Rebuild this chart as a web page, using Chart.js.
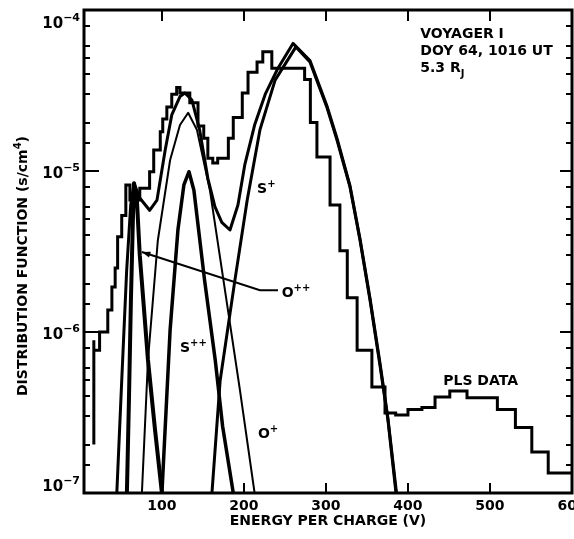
<!DOCTYPE html>
<html><head><meta charset="utf-8">
<script src="https://cdn.jsdelivr.net/npm/chart.js@4/dist/chart.umd.min.js"></script>
<style>html,body{margin:0;padding:0;background:#fff}#wrap{width:574px;height:539px}</style>
</head><body><div id="wrap"><canvas id="c" width="574" height="539"></canvas></div>
<script>
// PLS spectrum: left edge of each energy channel (V) and distribution function (s/cm^4)
const plsEnergy = [17, 17, 24, 34, 39, 43, 46, 51, 56, 61, 73, 85, 90, 98, 101, 106, 112, 118, 122, 134, 144, 151, 156, 162, 168, 181, 187, 198, 205, 216, 223, 234, 274, 281, 289, 305, 317, 326, 338, 356, 372, 385, 400, 417, 433, 451, 472, 509, 531, 551, 571, 594, 600];
const plsValue  = [2.0e-7, 8.9e-7, 7.7e-7, 1.0e-6, 1.37e-6, 1.9e-6, 2.5e-6, 3.9e-6, 5.3e-6, 8.2e-6, 6.6e-6, 7.8e-6, 9.9e-6, 1.35e-5, 1.75e-5, 2.1e-5, 2.5e-5, 3.0e-5, 3.3e-5, 3.05e-5, 2.65e-5, 1.9e-5, 1.6e-5, 1.2e-5, 1.12e-5, 1.2e-5, 1.6e-5, 2.15e-5, 3.05e-5, 4.1e-5, 4.75e-5, 5.5e-5, 4.35e-5, 3.7e-5, 2.0e-5, 1.22e-5, 6.15e-6, 3.2e-6, 1.63e-6, 7.7e-7, 4.55e-7, 3.14e-7, 3.05e-7, 3.3e-7, 3.4e-7, 3.95e-7, 4.3e-7, 3.9e-7, 3.3e-7, 2.55e-7, 1.8e-7, 1.33e-7, 1.33e-7];

// Fitted Maxwellian components
const oxy2Energy = [57.3, 59.8, 62.2, 64.6, 66, 69.5, 73, 83, 91.5, 100];
const oxy2Value  = [1e-7, 3.8e-7, 1.58e-6, 4.97e-6, 8.4e-6, 6.6e-6, 3.0e-6, 6.7e-7, 2.5e-7, 1e-7];

const sul2Energy = [100, 110, 119.5, 126.8, 133, 139, 152, 165, 174, 187];
const sul2Value  = [1e-7, 1.03e-6, 4.3e-6, 8.2e-6, 9.9e-6, 7.6e-6, 2.1e-6, 6.7e-7, 2.6e-7, 1e-7];

const oxy1Energy = [75.6, 83, 95, 110, 122, 132, 142.7, 158.5, 177, 195, 213];
const oxy1Value  = [1e-7, 6.7e-7, 3.7e-6, 1.17e-5, 1.93e-5, 2.3e-5, 1.8e-5, 7.6e-6, 1.8e-6, 4.4e-7, 1e-7];

const sul1Energy = [161, 171, 189, 204, 219.5, 238, 263.4, 280.5, 301, 313.4, 329.3, 341.5, 353.7, 365.9, 375.6, 385.4];
const sul1Value  = [1e-7, 5.0e-7, 2.1e-6, 6.6e-6, 1.8e-5, 3.67e-5, 5.9e-5, 4.75e-5, 2.5e-5, 1.56e-5, 7.96e-6, 3.73e-6, 1.58e-6, 6.2e-7, 2.84e-7, 1e-7];

// Sum of all components
const sumEnergy = [45, 51, 57, 62, 66, 73, 85, 94, 104, 112, 122, 128, 136.6, 146, 156, 164.6, 173, 183, 192.7, 201, 213, 226, 241.5, 259.8, 280.5, 301, 313.4, 329.3, 341.5, 353.7, 365.9, 375.6, 386];
const sumValue  = [1e-7, 5.0e-7, 2.4e-6, 6.2e-6, 8.4e-6, 6.8e-6, 5.7e-6, 6.6e-6, 1.35e-5, 2.23e-5, 2.9e-5, 3.05e-5, 2.76e-5, 1.8e-5, 9.0e-6, 6.0e-6, 4.8e-6, 4.3e-6, 6.15e-6, 1.09e-5, 1.93e-5, 3.0e-5, 4.35e-5, 6.2e-5, 4.85e-5, 2.55e-5, 1.6e-5, 8.1e-6, 3.8e-6, 1.62e-6, 6.4e-7, 2.9e-7, 1e-7];

const xTicks = [100, 200, 300, 400, 500, 600];
const yDecades = [1e-7, 1e-6, 1e-5, 1e-4];
const yMinorMantissas = [1.5, 2, 3, 4, 5, 6, 8];

const zip = (xs, ys) => xs.map((x, i) => ({x, y: ys[i]}));
const FONT = '"DejaVu Sans", sans-serif';

function line(data, width, extra) {
  return Object.assign({data, borderColor: '#000', borderWidth: width, pointRadius: 0, fill: false, tension: 0, showLine: true, borderJoinStyle: 'round', borderCapStyle: 'round'}, extra || {});
}

// text with optional raised/lowered parts: [[text, 'b'|'sup'|'sub'], ...]
function richText(ctx, parts, x, y, size) {
  let cx = x;
  for (const [t, kind] of parts) {
    const s = kind === 'b' ? size : Math.round(size * 0.72);
    ctx.font = 'bold ' + s + 'px ' + FONT;
    const dy = kind === 'sup' ? -size * 0.42 : kind === 'sub' ? size * 0.38 : 0;
    ctx.fillText(t, cx, y + dy);
    cx += ctx.measureText(t).width;
  }
  return cx - x;
}
function richWidth(ctx, parts, size) {
  let w = 0;
  for (const [t, kind] of parts) {
    const s = kind === 'b' ? size : Math.round(size * 0.72);
    ctx.font = 'bold ' + s + 'px ' + FONT;
    w += ctx.measureText(t).width;
  }
  return w;
}

const labels = [
  {e: 415, f: 6.7e-5, parts: [['VOYAGER I', 'b']]},
  {e: 415, f: 5.25e-5, parts: [['DOY 64, 1016 UT', 'b']]},
  {e: 415, f: 4.12e-5, parts: [['5.3 R', 'b'], ['J', 'sub']]},
  {e: 216, f: 7.3e-6, parts: [['S', 'b'], ['+', 'sup']]},
  {e: 246, f: 1.65e-6, parts: [['O', 'b'], ['++', 'sup']]},
  {e: 122, f: 7.5e-7, parts: [['S', 'b'], ['++', 'sup']]},
  {e: 217, f: 2.2e-7, parts: [['O', 'b'], ['+', 'sup']]},
  {e: 443, f: 4.7e-7, parts: [['PLS DATA', 'b']]}
];
// pointer from the O++ label to its curve: label end, knee, tip
const pointer = [{e: 241.5, f: 1.82e-6}, {e: 219.5, f: 1.82e-6}, {e: 75.6, f: 3.14e-6}];

const decor = {
  id: 'decor',
  afterDraw(chart) {
    const {ctx, chartArea: a, scales: {x, y}} = chart;
    ctx.save();
    ctx.strokeStyle = '#000';
    ctx.fillStyle = '#000';
    ctx.lineCap = 'butt';
    // ticks
    ctx.lineWidth = 2;
    ctx.beginPath();
    for (const v of xTicks) {
      const px = Math.round(x.getPixelForValue(v));
      ctx.moveTo(px, a.bottom); ctx.lineTo(px, a.bottom - 10);
      if (v < 600) { ctx.moveTo(px, a.top); ctx.lineTo(px, a.top + 11); }
    }
    for (const d of yDecades) {
      const py = Math.round(y.getPixelForValue(d));
      ctx.moveTo(a.left, py); ctx.lineTo(a.left + 15, py);
      ctx.moveTo(a.right, py); ctx.lineTo(a.right - 12, py);
      if (d < 1e-4) {
        for (const m of yMinorMantissas) {
          const pm = Math.round(y.getPixelForValue(d * m));
          ctx.moveTo(a.left, pm); ctx.lineTo(a.left + 6, pm);
          ctx.moveTo(a.right, pm); ctx.lineTo(a.right - 6, pm);
        }
      }
    }
    ctx.stroke();
    // frame
    ctx.lineWidth = 3;
    ctx.strokeRect(a.left, a.top, a.right - a.left, a.bottom - a.top);

    // y tick labels 10^n
    ctx.textBaseline = 'middle';
    for (const d of yDecades) {
      const exp = Math.round(Math.log10(d));
      let py = y.getPixelForValue(d) + 3;
      py = Math.min(Math.max(py, a.top + 14), a.bottom - 6);
      const parts = [['10', 'b'], ['\u2212' + Math.abs(exp), 'sup']];
      const w = richWidth(ctx, parts, 15);
      richText(ctx, parts, a.left - 4 - w, py, 15);
    }

    // axis title
    ctx.textBaseline = 'alphabetic';
    ctx.save();
    ctx.translate(27, 266);
    ctx.rotate(-Math.PI / 2);
    const tparts = [['DISTRIBUTION FUNCTION (s/cm', 'b'], ['4', 'sup'], [')', 'b']];
    const tw = richWidth(ctx, tparts, 14);
    richText(ctx, tparts, -tw / 2, 0, 14);
    ctx.restore();

    // annotations
    for (const l of labels) {
      richText(ctx, l.parts, x.getPixelForValue(l.e), y.getPixelForValue(l.f), 14);
    }
    // pointer with arrowhead
    const pts = pointer.map(p => [x.getPixelForValue(p.e), y.getPixelForValue(p.f)]);
    ctx.lineWidth = 2;
    ctx.beginPath();
    ctx.moveTo(pts[0][0], pts[0][1]);
    for (let i = 1; i < pts.length; i++) ctx.lineTo(pts[i][0], pts[i][1]);
    ctx.stroke();
    const [tx, ty] = pts[2], [kx, ky] = pts[1];
    const ang = Math.atan2(ty - ky, tx - kx);
    ctx.beginPath();
    ctx.moveTo(tx, ty);
    ctx.lineTo(tx - 9 * Math.cos(ang - 0.35), ty - 9 * Math.sin(ang - 0.35));
    ctx.lineTo(tx - 9 * Math.cos(ang + 0.35), ty - 9 * Math.sin(ang + 0.35));
    ctx.closePath();
    ctx.fill();
    ctx.restore();
  }
};

new Chart(document.getElementById('c'), {
  type: 'scatter',
  data: {
    datasets: [
      line(zip(plsEnergy, plsValue), 3, {stepped: 'after', borderJoinStyle: 'miter', borderCapStyle: 'butt'}),
      line(zip(sumEnergy, sumValue), 3),
      line(zip(oxy2Energy, oxy2Value), 4),
      line(zip(sul2Energy, sul2Value), 3.5),
      line(zip(oxy1Energy, oxy1Value), 2),
      line(zip(sul1Energy, sul1Value), 3)
    ]
  },
  options: {
    responsive: false,
    animation: false,
    devicePixelRatio: 1,
    layout: {padding: {top: 10, right: 2, left: 0, bottom: 0}},
    plugins: {legend: {display: false}, tooltip: {enabled: false}},
    scales: {
      x: {
        type: 'linear', min: 5, max: 600,
        afterBuildTicks: s => { s.ticks = xTicks.map(v => ({value: v})); },
        afterFit: s => { s.height = 46; s.paddingLeft = 0; s.paddingRight = 0; },
        grid: {display: false, drawTicks: false},
        border: {display: false},
        ticks: {color: '#000', padding: 5, maxRotation: 0, autoSkip: false, font: {family: FONT, size: 14, weight: 'bold'}},
        title: {display: true, text: 'ENERGY PER CHARGE (V)', color: '#000', font: {family: FONT, size: 14, weight: 'bold'}, padding: {top: 0, bottom: 9}}
      },
      y: {
        type: 'logarithmic', min: 1e-7, max: 1e-4,
        afterFit: s => { s.width = 84; s.paddingTop = 0; s.paddingBottom = 0; },
        grid: {display: false, drawTicks: false},
        border: {display: false},
        ticks: {display: false}
      }
    }
  },
  plugins: [decor]
});
</script>
</body></html>
